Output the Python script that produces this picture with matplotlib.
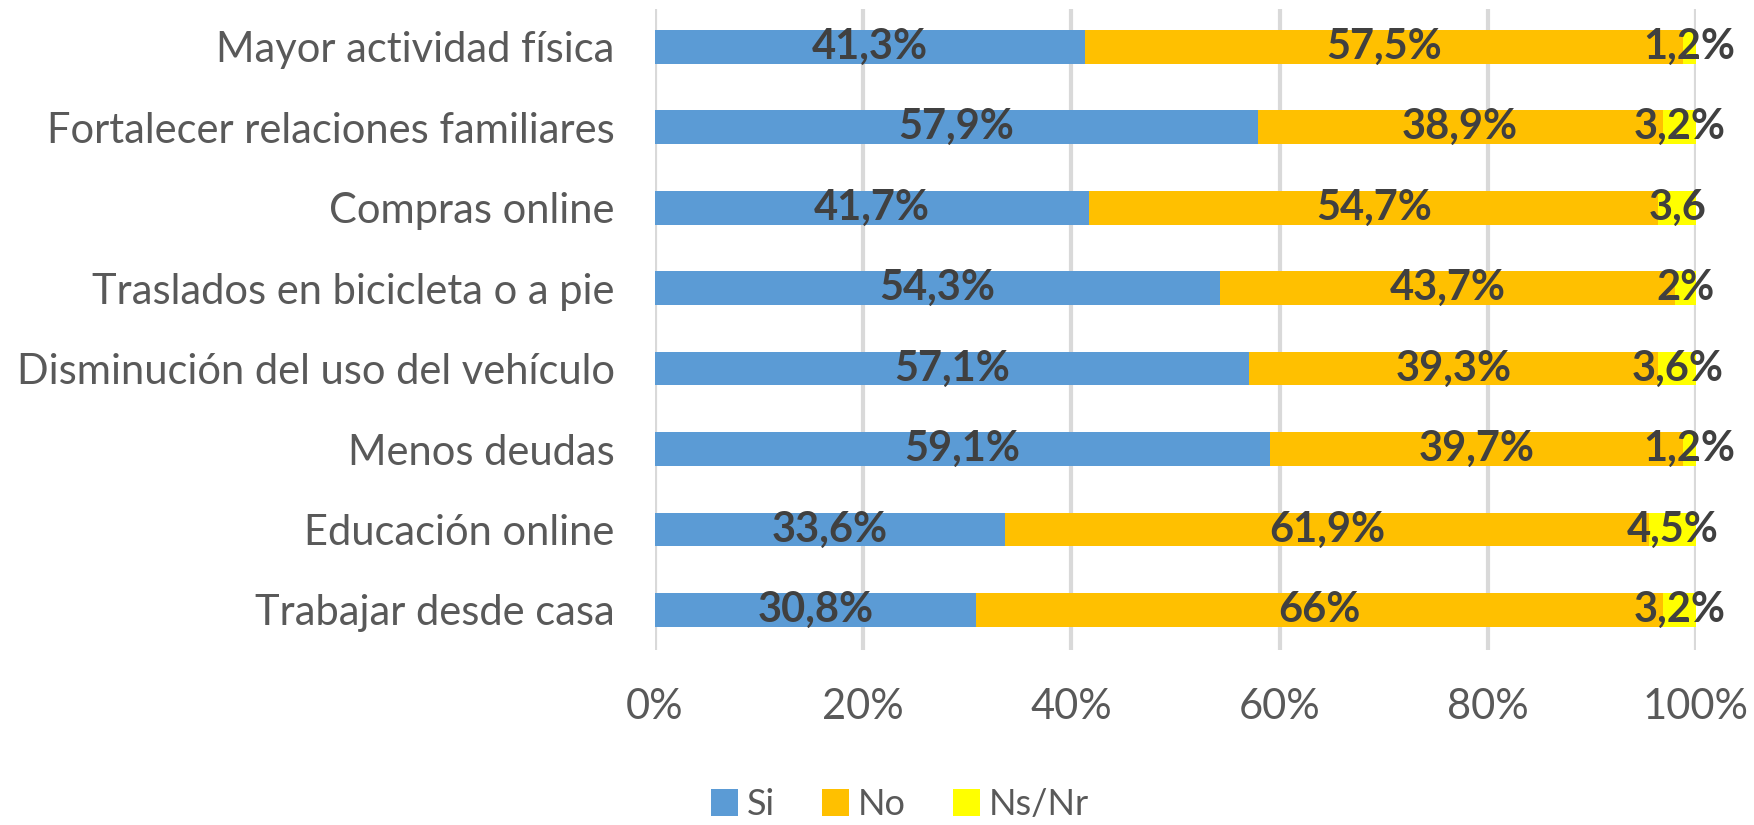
import matplotlib
matplotlib.use("Agg")
import matplotlib.pyplot as plt
from matplotlib.ticker import FuncFormatter

plt.rcParams['font.family'] = ['Lato', 'DejaVu Sans']

# data
categorias = ["Mayor actividad física", "Fortalecer relaciones familiares", "Compras online",
              "Traslados en bicicleta o a pie", "Disminución del uso del vehículo",
              "Menos deudas", "Educación online", "Trabajar desde casa"]
si = [41.3, 57.9, 41.7, 54.3, 57.1, 59.1, 33.6, 30.8]
no = [57.5, 38.9, 54.7, 43.7, 39.3, 39.7, 61.9, 66]
nsnr = [1.2, 3.2, 3.6, 2, 3.6, 1.2, 4.5, 3.2]
etiq_si = ["41,3%", "57,9%", "41,7%", "54,3%", "57,1%", "59,1%", "33,6%", "30,8%"]
etiq_no = ["57,5%", "38,9%", "54,7%", "43,7%", "39,3%", "39,7%", "61,9%", "66%"]
etiq_ns = ["1,2%", "3,2%", "3,6", "2%", "3,6%", "1,2%", "4,5%", "3,2%"]
series = ["Si", "No", "Ns/Nr"]
colores = ["#5B9BD5", "#FFC000", "#FFFF00"]

fig = plt.figure(figsize=(17.54, 8.25), dpi=100)
ax = fig.add_axes([0.3734, 0.212, 0.5935, 0.777])

y = list(range(len(categorias)))
h = 0.42
izq = [0] * len(y)
for vals, etiq, col, nom in zip([si, no, nsnr], [etiq_si, etiq_no, etiq_ns], colores, series):
    ax.barh(y, vals, left=izq, height=h, color=col, label=nom, zorder=3)
    for i, (v, t) in enumerate(zip(vals, etiq)):
        ax.text(izq[i] + v / 2, i, t, ha="center", va="center", fontsize=30,
                fontweight="bold", color="#404040", zorder=4)
    izq = [a + b for a, b in zip(izq, vals)]

ax.set_xlim(0, 100)
ax.set_ylim(7.5, -0.47)
ax.set_xticks([0, 20, 40, 60, 80, 100])
ax.xaxis.set_major_formatter(FuncFormatter(lambda v, p: f"{int(v)}%"))
ax.set_yticks(y)
ax.set_yticklabels(categorias)
ax.grid(axis="x", color="#D9D9D9", linewidth=3, zorder=0)
for s in ax.spines.values():
    s.set_visible(False)
ax.tick_params(axis="y", length=0, pad=29, labelsize=30, labelcolor="#595959")
ax.tick_params(axis="x", length=0, pad=27, labelsize=30, labelcolor="#595959")

fig.legend(loc="center", bbox_to_anchor=(0.513, 0.025), ncol=3, frameon=False,
           fontsize=26, labelcolor="#595959", handlelength=0.75, handleheight=0.75,
           handletextpad=0.25, columnspacing=1.3)

fig.savefig("out.png", dpi=100)
